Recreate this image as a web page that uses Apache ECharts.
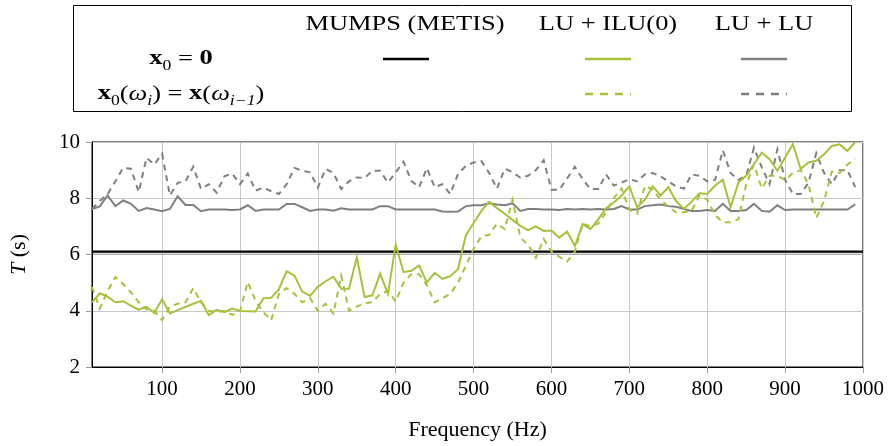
<!DOCTYPE html>
<html>
<head>
<meta charset="utf-8">
<script src="https://cdn.jsdelivr.net/npm/echarts@6/dist/echarts.min.js"></script>
<style>
  html, body { margin: 0; padding: 0; background: #fff; }
  #chart { width: 895px; height: 446px; }
</style>
</head>
<body>
<div id="chart"></div>
<script>
// Frequencies (Hz)
const frequencies = [
  10, 20, 30, 40, 50, 60, 70, 80, 90, 100,
  110, 120, 130, 140, 150, 160, 170, 180, 190, 200,
  210, 220, 230, 240, 250, 260, 270, 280, 290, 300,
  310, 320, 330, 340, 350, 360, 370, 380, 390, 400,
  410, 420, 430, 440, 450, 460, 470, 480, 490, 500,
  510, 520, 530, 540, 550, 560, 570, 580, 590, 600,
  610, 620, 630, 640, 650, 660, 670, 680, 690, 700,
  710, 720, 730, 740, 750, 760, 770, 780, 790, 800,
  810, 820, 830, 840, 850, 860, 870, 880, 890, 900,
  910, 920, 930, 940, 950, 960, 970, 980, 990
];

// Solve time T (s), LU + LU, zero initial guess
const luLuZero = [
  7.62, 7.71, 8.10, 7.72, 7.92, 7.80, 7.55, 7.65, 7.60, 7.54,
  7.62, 8.07, 7.76, 7.76, 7.54, 7.60, 7.60, 7.60, 7.58, 7.60,
  7.75, 7.55, 7.60, 7.60, 7.60, 7.80, 7.80, 7.68, 7.55, 7.60,
  7.60, 7.56, 7.64, 7.60, 7.60, 7.60, 7.60, 7.72, 7.72, 7.60,
  7.60, 7.60, 7.60, 7.60, 7.60, 7.53, 7.52, 7.53, 7.72, 7.75,
  7.75, 7.82, 7.78, 7.75, 7.82, 7.55, 7.62, 7.62, 7.60, 7.60,
  7.58, 7.62, 7.60, 7.62, 7.60, 7.62, 7.60, 7.62, 7.72, 7.60,
  7.60, 7.72, 7.75, 7.78, 7.72, 7.70, 7.62, 7.55, 7.55, 7.58,
  7.55, 7.80, 7.55, 7.55, 7.58, 7.80, 7.55, 7.52, 7.75, 7.58,
  7.60, 7.60, 7.60, 7.60, 7.60, 7.60, 7.60, 7.60, 7.78
];

// LU + LU, previous solution as initial guess
const luLuWarm = [
  7.62, 7.90, 8.15, 8.60, 9.08, 9.05, 8.22, 9.44, 9.20, 9.58,
  8.10, 8.55, 8.60, 9.12, 8.33, 8.50, 8.20, 8.78, 8.88, 8.50,
  8.88, 8.27, 8.38, 8.25, 8.15, 8.50, 9.08, 8.98, 8.92, 8.38,
  9.04, 8.90, 8.33, 8.60, 8.74, 8.72, 8.98, 8.98, 8.56, 8.92,
  9.30, 8.62, 8.39, 9.07, 8.39, 8.50, 8.15, 8.86, 9.15, 9.27,
  9.32, 8.90, 8.34, 9.05, 8.93, 8.73, 8.80, 9.00, 9.35, 8.30,
  8.30, 8.70, 9.12, 8.68, 8.33, 8.33, 8.85, 8.45, 8.55, 8.68,
  8.60, 8.85, 8.90, 8.78, 8.60, 8.42, 8.34, 8.85, 8.80, 8.60,
  8.65, 9.70, 8.90, 8.65, 8.80, 9.80, 9.10, 8.50, 9.74, 8.65,
  8.15, 8.15, 8.55, 9.60, 8.90, 8.50, 9.00, 9.00, 8.40
];

// LU + ILU(0), zero initial guess
const luIluZero = [
  4.30, 4.62, 4.50, 4.30, 4.34, 4.18, 4.04, 4.14, 3.92, 4.41,
  3.90, 4.02, 4.14, 4.25, 4.35, 3.85, 4.03, 3.95, 4.08, 3.99,
  3.98, 3.97, 4.44, 4.46, 4.77, 5.41, 5.25, 4.68, 4.53, 4.85,
  5.05, 5.21, 4.78, 4.78, 5.90, 4.49, 4.55, 5.32, 4.60, 6.35,
  5.37, 5.42, 5.61, 5.01, 5.35, 5.13, 5.23, 5.48, 6.68, 7.12,
  7.55, 7.87, 7.65, 7.45, 7.23, 7.02, 6.87, 7.00, 6.84, 6.85,
  6.60, 6.82, 6.30, 7.08, 6.90, 7.25, 7.65, 7.85, 8.10, 8.42,
  7.68, 7.95, 8.43, 8.10, 8.39, 7.90, 7.62, 7.88, 8.18, 8.15,
  8.45, 8.66, 7.68, 8.56, 8.80, 9.21, 9.62, 9.39, 8.98, 9.45,
  9.92, 9.04, 9.27, 9.33, 9.56, 9.86, 9.92, 9.68, 10.00
];

// LU + ILU(0), previous solution as initial guess
const luIluWarm = [
  4.85, 4.08, 4.70, 5.20, 4.95, 4.65, 4.30, 4.05, 4.00, 3.67,
  4.15, 4.25, 4.30, 4.80, 4.30, 4.00, 3.95, 4.00, 3.85, 3.98,
  5.02, 4.35, 3.95, 3.66, 4.60, 4.80, 4.60, 4.30, 4.45, 4.00,
  4.25, 3.90, 5.25, 4.00, 4.15, 4.27, 4.30, 4.60, 4.70, 4.33,
  5.00, 5.30, 5.30, 4.90, 4.30, 4.45, 4.60, 5.00, 5.60, 6.20,
  6.65, 6.70, 7.10, 6.90, 7.95, 6.60, 6.35, 5.88, 6.55, 6.10,
  5.92, 5.75, 6.10, 7.10, 7.00, 7.10, 7.50, 8.00, 8.35, 7.60,
  7.45, 8.45, 8.30, 7.95, 7.70, 7.50, 7.50, 7.55, 8.10, 7.95,
  7.40, 7.15, 7.15, 7.25, 8.50, 9.20, 8.35, 8.80, 8.80, 8.65,
  8.90, 9.00, 8.50, 7.30, 7.90, 8.95, 8.90, 9.20, 9.40
];

// MUMPS (METIS) direct solve: constant time over the band, with its spread
const mumpsSpan = [10, 1000];
const mumpsTime = 6.1;
const mumpsRange = [5.98, 6.12];

// Axis ticks
const xTicks = [100, 200, 300, 400, 500, 600, 700, 800, 900, 1000];
const yTicks = [2, 4, 6, 8, 10];

const GREEN = '#a5c23a';
const GRAY = '#7f7f7f';
const SERIF = '"Liberation Serif", "DejaVu Serif", serif';
const WIDE = 1.26; // horizontal stretch for legend text

const pairs = vals => frequencies.map((f, i) => [f, vals[i]]);

const gridL = 92, gridR = 32, gridT = 142, gridB = 77;

const lineSeries = (name, vals, color, dashed, z) => ({
  name, type: 'line', data: pairs(vals), showSymbol: false, symbol: 'none',
  z, animation: false,
  lineStyle: { color, width: 2, type: dashed ? [6, 5] : 'solid', cap: 'butt', join: 'miter' }
});

const chart = echarts.init(document.getElementById('chart'), null, { renderer: 'canvas' });

const headerText = (text, x) => ({
  type: 'text', x, y: 24, scaleX: WIDE,
  style: { text, x: 0, y: 0, align: 'center', verticalAlign: 'middle', font: '21px ' + SERIF, fill: '#000' }
});

const richStyles = {
  b: { fontFamily: SERIF, fontSize: 21, fontWeight: 'bold', lineHeight: 28, verticalAlign: 'middle' },
  n: { fontFamily: SERIF, fontSize: 21, lineHeight: 28, verticalAlign: 'middle' },
  i: { fontFamily: SERIF, fontSize: 21, fontStyle: 'italic', lineHeight: 28, verticalAlign: 'middle' },
  s: { fontFamily: SERIF, fontSize: 14, verticalAlign: 'bottom', lineHeight: 28 },
  si: { fontFamily: SERIF, fontSize: 14, fontStyle: 'italic', verticalAlign: 'bottom', lineHeight: 28 }
};

// Legend table drawn as graphic elements
const legendGraphic = [
  { type: 'rect', shape: { x: 73.5, y: 5.5, width: 778, height: 106 },
    style: { fill: 'none', stroke: '#000', lineWidth: 1 }, silent: true },
  headerText('MUMPS (METIS)', 405),
  headerText('LU + ILU(0)', 608),
  headerText('LU + LU', 764),
  { type: 'text', x: 181, y: 59, scaleX: WIDE,
    style: { text: '{b|x}{s|0}{n| = }{b|0}', x: 0, y: 0, align: 'center', verticalAlign: 'middle', rich: richStyles } },
  { type: 'text', x: 181, y: 94, scaleX: WIDE,
    style: { text: '{b|x}{s|0}{n|(}{i|ω}{si|i}{n|) = }{b|x}{n|(}{i|ω}{si|i−1}{n|)}', x: 0, y: 0,
      align: 'center', verticalAlign: 'middle', rich: richStyles } },
  { type: 'line', shape: { x1: 383, y1: 59, x2: 429, y2: 59 }, style: { stroke: '#000', lineWidth: 2.5 } },
  { type: 'line', shape: { x1: 585, y1: 59, x2: 631, y2: 59 }, style: { stroke: GREEN, lineWidth: 2.5 } },
  { type: 'line', shape: { x1: 741, y1: 59, x2: 787, y2: 59 }, style: { stroke: GRAY, lineWidth: 2.5 } },
  { type: 'line', shape: { x1: 585, y1: 94, x2: 631, y2: 94 }, style: { stroke: GREEN, lineWidth: 2.5, lineDash: [8, 7] } },
  { type: 'line', shape: { x1: 741, y1: 94, x2: 787, y2: 94 }, style: { stroke: GRAY, lineWidth: 2.5, lineDash: [8, 7] } }
];

chart.setOption({
  animation: false,
  backgroundColor: '#fff',
  grid: { left: gridL, right: gridR, top: gridT, bottom: gridB, show: true,
          borderColor: '#000', borderWidth: 1, backgroundColor: 'transparent' },
  xAxis: {
    type: 'value', min: 10, max: 1000,
    name: 'Frequency (Hz)', nameLocation: 'middle', nameGap: 52,
    nameTextStyle: { fontFamily: SERIF, fontSize: 22, color: '#000' },
    axisLine: { show: true, lineStyle: { color: '#000', width: 1 } },
    axisTick: { show: true, customValues: xTicks, length: 6, lineStyle: { color: '#999' } },
    axisLabel: { customValues: xTicks, fontFamily: SERIF, fontSize: 21, color: '#000', margin: 12,
                 formatter: v => String(v) },
    splitLine: { show: true, lineStyle: { color: '#c8c8c8', width: 1 } }
  },
  yAxis: {
    type: 'value', min: 2, max: 10, interval: 2,
    name: '{i|T} (s)', nameLocation: 'middle', nameGap: 62, nameRotate: 90,
    nameTextStyle: { fontFamily: SERIF, fontSize: 22, color: '#000',
      rich: { i: { fontFamily: SERIF, fontSize: 22, fontStyle: 'italic' } } },
    axisLine: { show: true, lineStyle: { color: '#000', width: 1 } },
    axisTick: { show: true, length: 6, lineStyle: { color: '#999' } },
    axisLabel: { customValues: yTicks, fontFamily: SERIF, fontSize: 21, color: '#000', margin: 12,
                 formatter: v => String(v) },
    splitLine: { show: true, lineStyle: { color: '#c8c8c8', width: 1 } }
  },
  graphic: legendGraphic,
  series: [
    {
      name: 'MUMPS (METIS)', type: 'line', z: 1, symbol: 'none', animation: false,
      data: mumpsSpan.map(f => [f, mumpsTime]),
      lineStyle: { color: '#000', width: 2.2 },
      markArea: {
        silent: true,
        itemStyle: { color: 'rgba(0,0,0,0.13)' },
        data: [[{ xAxis: mumpsSpan[0], yAxis: mumpsRange[0] }, { xAxis: mumpsSpan[1], yAxis: mumpsRange[1] }]]
      }
    },
    lineSeries('LU + LU warm', luLuWarm, GRAY, true, 2),
    lineSeries('LU + LU', luLuZero, GRAY, false, 3),
    lineSeries('LU + ILU(0) warm', luIluWarm, GREEN, true, 4),
    lineSeries('LU + ILU(0)', luIluZero, GREEN, false, 5)
  ]
});
</script>
</body>
</html>
